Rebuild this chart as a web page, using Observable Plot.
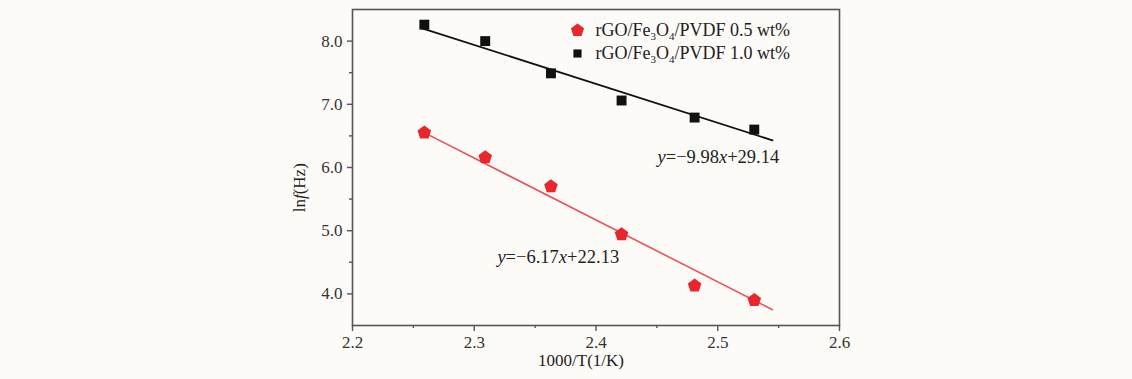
<!DOCTYPE html>
<html><head><meta charset="utf-8">
<script src="https://cdn.jsdelivr.net/npm/d3@7"></script>
<script src="https://cdn.jsdelivr.net/npm/@observablehq/plot@0.6"></script>
<style>
html,body{margin:0;padding:0;background:#fdfbf8;}
#chart svg{display:block;}
</style></head><body><div id="chart"></div>
<script>
// ---- data ----
const invT = [2.259, 2.309, 2.363, 2.421, 2.481, 2.530];
const lnf05 = [6.55, 6.16, 5.70, 4.94, 4.13, 3.90];
const lnf10 = [8.26, 8.00, 7.49, 7.06, 6.79, 6.60];
const fitX = [2.256, 2.545];
const fit05 = [6.58, 3.75];
const fit10 = [8.21, 6.43];
const seriesNames = ["rGO/Fe3O4/PVDF 0.5 wt%", "rGO/Fe3O4/PVDF 1.0 wt%"];
const xTicks = [2.2, 2.3, 2.4, 2.5, 2.6];
const xMinor = [2.25, 2.35, 2.45, 2.55];
const yTicks = [4, 5, 6, 7, 8];
const yMinor = [4.5, 5.5, 6.5, 7.5];
const eqX = [2.4505, 2.319];
const eqY = [6.16, 4.58];
const eqText = ["y=−9.98x+29.14", "y=−6.17x+22.13"];
const xLabel = "1000/T(1/K)";
const yLabel = "lnf(Hz)";
const yLabelPos = 5.68;

const RED = "#e8262c", REDLINE = "#e9535c", BLACK = "#111";
const FONT = "'Liberation Serif', 'Times New Roman', serif";

const pentagon = {
  draw(context, size) {
    const r = Math.sqrt(size / 2.3776);
    for (let i = 0; i < 5; i++) {
      const a = -Math.PI / 2 + i * 2 * Math.PI / 5;
      const px = r * Math.cos(a), py = r * Math.sin(a);
      if (i === 0) context.moveTo(px, py); else context.lineTo(px, py);
    }
    context.closePath();
  }
};

const pts05 = invT.map((x, i) => ({x, y: lnf05[i]}));
const pts10 = invT.map((x, i) => ({x, y: lnf10[i]}));
const line05 = fitX.map((x, i) => ({x, y: fit05[i]}));
const line10 = fitX.map((x, i) => ({x, y: fit10[i]}));
const eqs = eqX.map((x, i) => ({x, y: eqY[i], text: eqText[i]}));

const chart = Plot.plot({
  width: 1132, height: 379,
  marginLeft: 352, marginRight: 293, marginTop: 9, marginBottom: 54,
  style: {fontFamily: FONT, fontSize: "17px", background: "transparent", color: "#333"},
  x: {domain: [2.2, 2.6]},
  y: {domain: [3.5, 8.5]},
  marks: [
    Plot.frame({stroke: "#555", strokeWidth: 1.6}),
    Plot.axisX({ticks: xTicks, tickFormat: d3.format(".1f"), tickSize: 6, tickPadding: 4, label: null, stroke: "#555", strokeWidth: 1.4, fontSize: 17, fill: "#333"}),
    Plot.axisX({ticks: xMinor, tickSize: 3, text: null, label: null, stroke: "#555", strokeWidth: 1.4}),
    Plot.axisY({ticks: yTicks, tickFormat: d3.format(".1f"), tickSize: 5, tickPadding: 5, label: null, stroke: "#555", strokeWidth: 1.4, fontSize: 17, fill: "#333"}),
    Plot.axisY({ticks: yMinor, tickSize: 3, text: null, label: null, stroke: "#555", strokeWidth: 1.4}),
    Plot.line(line10, {x: "x", y: "y", stroke: BLACK, strokeWidth: 1.8}),
    Plot.line(line05, {x: "x", y: "y", stroke: REDLINE, strokeWidth: 1.6}),
    Plot.dot(pts10, {x: "x", y: "y", symbol: "square", r: 5.6, fill: BLACK, stroke: "none"}),
    Plot.dot(pts05, {x: "x", y: "y", symbol: pentagon, r: 6.2, fill: RED, stroke: "none"}),
    Plot.text(eqs, {x: "x", y: "y", text: "text", textAnchor: "start", lineAnchor: "middle", fontSize: 18.5, fill: "#222"}),
    // legend
    Plot.dot([0], {frameAnchor: "top-right", dx: -262, dy: 21, symbol: pentagon, r: 6, fill: RED, stroke: "none"}),
    Plot.dot([0], {frameAnchor: "top-right", dx: -262, dy: 44, symbol: "square", r: 4.6, fill: BLACK, stroke: "none"}),
    Plot.text([seriesNames[0]], {frameAnchor: "top-right", dx: -244, dy: 21, text: d => d, textAnchor: "start", lineAnchor: "middle", fontSize: 18, fill: "#222"}),
    Plot.text([seriesNames[1]], {frameAnchor: "top-right", dx: -244, dy: 44, text: d => d, textAnchor: "start", lineAnchor: "middle", fontSize: 18, fill: "#222"}),
    // axis labels
    Plot.text([xLabel], {frameAnchor: "bottom", dx: -15, dy: 35, text: d => d, lineAnchor: "middle", fontSize: 17, fill: "#222"}),
    Plot.text([yLabel], {x: () => 2.2, y: () => yLabelPos, dx: -53, rotate: -90, text: d => d, lineAnchor: "middle", fontSize: 17, fill: "#222"})
  ]
});
document.getElementById("chart").appendChild(chart);

// rich text: italics and subscripts as tspans
const NS = "http://www.w3.org/2000/svg";
function rebuild(el, parts) {
  while (el.firstChild) el.removeChild(el.firstChild);
  let shifted = 0;
  for (const p of parts) {
    const t = document.createElementNS(NS, "tspan");
    t.textContent = p.t;
    if (p.i) t.setAttribute("font-style", "italic");
    const want = p.sub ? 4 : 0;
    if (want !== shifted) { t.setAttribute("dy", want - shifted); shifted = want; }
    if (p.sub) t.setAttribute("font-size", "11");
    el.appendChild(t);
  }
}
function legendParts(s) {
  const rest = s.split("Fe3O4")[1];
  return [{t: "rGO/Fe"}, {t: "3", sub: true}, {t: "O"}, {t: "4", sub: true}, {t: rest}];
}
function eqParts(s) {
  const parts = [];
  for (const ch of s) {
    const it = ch === "y" || ch === "x";
    if (parts.length && parts[parts.length - 1].i === it) parts[parts.length - 1].t += ch;
    else parts.push({t: ch, i: it});
  }
  return parts;
}
chart.querySelectorAll("text").forEach(el => {
  const s = el.textContent;
  if (seriesNames.includes(s)) rebuild(el, legendParts(s));
  else if (eqText.includes(s)) rebuild(el, eqParts(s));
  else if (s === yLabel) rebuild(el, [{t: "ln"}, {t: "f", i: true}, {t: "(Hz)"}]);
});
</script>
</body></html>
